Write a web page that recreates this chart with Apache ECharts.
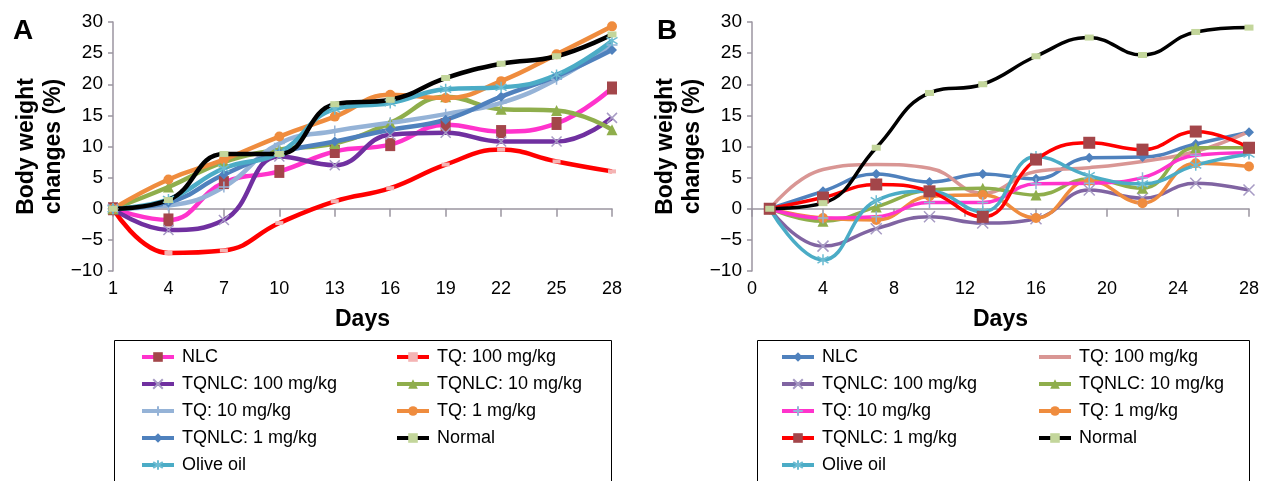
<!DOCTYPE html>
<html><head><meta charset="utf-8">
<script src="https://cdn.jsdelivr.net/npm/echarts@6/dist/echarts.min.js"></script>
<style>html,body{margin:0;padding:0;background:#fff}#c{width:1262px;height:481px}</style>
</head><body><div id="c"></div>
<script>
// ---------- DATA ----------
const daysA = ['1','4','7','10','13','16','19','22','25','28'];
const daysB = [1,4,7,10,13,16,19,22,25,28];
const namesCol1 = ['NLC','TQNLC: 100 mg/kg','TQ: 10 mg/kg','TQNLC: 1 mg/kg','Olive oil'];
const namesCol2 = ['TQ: 100 mg/kg','TQNLC: 10 mg/kg','TQ: 1 mg/kg','Normal'];

// Panel A
const a_nlc      = [0, -1.8, 4.2, 6.0, 9.2, 10.3, 13.5, 12.4, 13.7, 19.4];
const a_tq100    = [0, -7.1, -6.7, -2.3, 1.2, 3.3, 7.1, 9.5, 7.6, 6.0];
const a_tqnlc100 = [0, -3.4, -1.8, 8.4, 7.0, 11.9, 12.2, 10.8, 10.8, 14.6];
const a_tqnlc10  = [0, 3.5, 7.5, 9.5, 10.5, 13.8, 18.0, 16.0, 15.8, 12.7];
const a_tq10     = [0, 0.5, 3.5, 10.5, 12.5, 13.8, 15.2, 17.0, 20.8, 26.3];
const a_tq1      = [0, 4.7, 7.9, 11.6, 14.8, 18.3, 17.8, 20.5, 24.8, 29.3];
const a_tqnlc1   = [0, 1.0, 5.5, 9.0, 10.8, 12.7, 14.3, 18.0, 21.3, 25.5];
const a_normal   = [0, 1.4, 8.8, 8.8, 16.8, 17.5, 21.0, 23.3, 24.5, 28.0];
const a_olive    = [0, 1.5, 6.5, 9.0, 16.0, 17.0, 19.2, 19.5, 21.5, 27.0];

// Panel B
const b_nlc      = [0, 2.8, 5.6, 4.3, 5.6, 4.8, 8.2, 8.3, 10.4, 12.3];
const b_tq100    = [0, 6.3, 7.1, 6.5, 2.5, 6.0, 6.6, 7.6, 9.2, 12.4];
const b_tqnlc100 = [0, -6.0, -3.2, -1.3, -2.3, -1.6, 3.0, 1.7, 4.1, 3.0];
const b_tqnlc10  = [0, -2.0, 0.3, 3.0, 3.3, 2.2, 4.8, 3.3, 9.8, 9.8];
const b_tq10     = [0, -1.5, -1.3, 1.0, 1.0, 4.0, 4.1, 5.0, 8.6, 9.0];
const b_tq1      = [0, -1.5, -1.8, 2.0, 2.2, -1.5, 4.5, 0.9, 7.3, 6.8];
const b_tqnlc1   = [0, 1.8, 3.9, 2.8, -1.3, 7.9, 10.6, 9.5, 12.4, 9.8];
const b_normal   = [0, 0.9, 9.8, 18.6, 20.0, 24.5, 27.5, 24.7, 28.4, 29.1];
const b_olive    = [0, -8.2, 1.3, 2.8, -0.5, 8.4, 5.3, 4.0, 7.0, 8.8];

// ---------- STYLE ----------
const FONT = '"Liberation Sans", Arial, sans-serif';
const AX = '#9b95a0';
const SYM_X = 'path://M0,0L10,10M10,0L0,10';
const SYM_AST = 'path://M5,0L5,10M0,2L10,8M0,8L10,2';
const SYM_PLUS = 'path://M5,0L5,10M0,5L10,5';
const B_PREFIX = 'B\u200b';

function ser(name, data, color, sym, size, symColor, border, gi, w) {
  return {
    name: name, type: 'line', xAxisIndex: gi * 2, yAxisIndex: gi,
    data: data, smooth: 0.45, showAllSymbol: true,
    symbol: sym, symbolSize: size,
    lineStyle: { color: color, width: w },
    itemStyle: { color: symColor, borderColor: border || symColor, borderWidth: border ? 1.5 : 0 },
    emphasis: { disabled: true }, animation: false
  };
}
const pairs = v => daysB.map((d, i) => [d, v[i]]);

const series = [
  ser('NLC', a_nlc, '#ff33cc', 'rect', [10, 13], '#a3464a', null, 0, 4.5),
  ser('TQ: 100 mg/kg', a_tq100, '#ff0000', 'rect', [8, 4], '#f4b4b4', null, 0, 4.5),
  ser('TQNLC: 100 mg/kg', a_tqnlc100, '#7030a0', SYM_X, 10, 'none', '#a79bc4', 0, 4.5),
  ser('TQNLC: 10 mg/kg', a_tqnlc10, '#8fae4c', 'triangle', 11, '#8fae4c', null, 0, 4.5),
  ser('TQ: 10 mg/kg', a_tq10, '#95b3d7', SYM_PLUS, 11, 'none', '#95b3d7', 0, 4.5),
  ser('TQ: 1 mg/kg', a_tq1, '#ef8c3e', 'circle', 10, '#ef8c3e', null, 0, 4.5),
  ser('TQNLC: 1 mg/kg', a_tqnlc1, '#4f81bd', 'diamond', 10, '#4f81bd', null, 0, 4.5),
  ser('Olive oil', a_olive, '#4bacc6', SYM_AST, 11, 'none', '#6cbcd2', 0, 4.5),
  ser('Normal', a_normal, '#000000', 'rect', [9, 6], '#c3d69b', null, 0, 4.5),

  ser(B_PREFIX + 'NLC', pairs(b_nlc), '#4f81bd', 'diamond', 10, '#4f81bd', null, 1, 3.5),
  ser(B_PREFIX + 'TQ: 100 mg/kg', pairs(b_tq100), '#d99694', 'none', 6, '#d99694', null, 1, 3.5),
  ser(B_PREFIX + 'TQNLC: 100 mg/kg', pairs(b_tqnlc100), '#8064a2', SYM_X, 11, 'none', '#a79bc4', 1, 3.5),
  ser(B_PREFIX + 'TQNLC: 10 mg/kg', pairs(b_tqnlc10), '#8fae4c', 'triangle', 11, '#8fae4c', null, 1, 3.5),
  ser(B_PREFIX + 'TQ: 1 mg/kg', pairs(b_tq1), '#ef8c3e', 'circle', 10, '#ef8c3e', null, 1, 3.5),
  ser(B_PREFIX + 'TQ: 10 mg/kg', pairs(b_tq10), '#ff33cc', SYM_PLUS, 11, 'none', '#95b3d7', 1, 3.5),
  ser(B_PREFIX + 'Olive oil', pairs(b_olive), '#4bacc6', SYM_AST, 11, 'none', '#6cbcd2', 1, 3.5),
  ser(B_PREFIX + 'TQNLC: 1 mg/kg', pairs(b_tqnlc1), '#ff0000', 'rect', [12, 12], '#a3464a', null, 1, 3.5),
  ser(B_PREFIX + 'Normal', pairs(b_normal), '#000000', 'rect', [9, 6], '#c3d69b', null, 1, 3.5)
];

const lblX = { show: true, fontFamily: FONT, fontSize: 18, color: '#000', margin: 9 };
const nameStyle = { fontFamily: FONT, fontSize: 23, fontWeight: 'bold', color: '#000' };

function yAx(gi) {
  return {
    type: 'value', gridIndex: gi, min: -10, max: 30, interval: 5,
    splitLine: { show: false },
    axisLine: { show: true, lineStyle: { color: AX, width: 1.5 } },
    axisTick: { show: true, length: 5, lineStyle: { color: AX, width: 1.5 } },
    axisLabel: { fontFamily: FONT, fontSize: 19, color: '#000', margin: 10,
                 formatter: v => String(v).replace('-', '\u2212') },
    name: 'Body weight\nchanges (%)', nameLocation: 'middle', nameRotate: 90, nameGap: 46,
    nameTextStyle: Object.assign({ lineHeight: 27 }, nameStyle)
  };
}

const legendBase = {
  orient: 'vertical', itemWidth: 32, itemHeight: 12, itemGap: 9, padding: 0, height: 160,
  lineStyle: { width: 4 },
  textStyle: { fontFamily: FONT, fontSize: 18, color: '#000', padding: [0, 0, 0, 3] },
  formatter: n => n.replace(B_PREFIX, ''), selectedMode: false
};
function leg(left, names) { return Object.assign({ left: left, top: 348, data: names }, legendBase); }
// Legend entry of panel B's "TQ: 100 mg/kg" shows the line only (the series has no markers)
const noMarker = { color: 'rgba(0,0,0,0)', borderColor: 'rgba(0,0,0,0)', borderWidth: 0 };
const legBCol2 = namesCol2.map(n => n === 'TQ: 100 mg/kg'
  ? { name: B_PREFIX + n, itemStyle: noMarker } : B_PREFIX + n);

const option = {
  backgroundColor: '#fff',
  title: [
    { text: 'A', left: 8, top: 12, textStyle: { fontFamily: FONT, fontSize: 28, fontWeight: 'bold', color: '#000' } },
    { text: 'B', left: 652, top: 12, textStyle: { fontFamily: FONT, fontSize: 28, fontWeight: 'bold', color: '#000' } }
  ],
  grid: [
    { left: 113, right: 650, top: 22, bottom: 210 },
    { left: 752, right: 13, top: 22, bottom: 210 }
  ],
  xAxis: [
    { type: 'category', gridIndex: 0, data: daysA, boundaryGap: false, position: 'bottom',
      axisLine: { show: false, onZero: false }, axisTick: { show: false }, axisLabel: lblX,
      name: 'Days', nameLocation: 'middle', nameGap: 37, nameTextStyle: nameStyle },
    { type: 'category', gridIndex: 0, data: daysA, boundaryGap: false, position: 'bottom',
      axisLine: { show: true, onZero: true, lineStyle: { color: AX, width: 1.5 } },
      axisTick: { show: true, length: 8, lineStyle: { color: AX, width: 1.5 } },
      axisLabel: { show: false } },
    { type: 'value', gridIndex: 1, min: 0, max: 28, interval: 4, position: 'bottom',
      splitLine: { show: false },
      axisLine: { show: false, onZero: false }, axisTick: { show: false }, axisLabel: lblX,
      name: 'Days', nameLocation: 'middle', nameGap: 37, nameTextStyle: nameStyle },
    { type: 'value', gridIndex: 1, min: 0, max: 28, interval: 4, position: 'bottom',
      splitLine: { show: false },
      axisLine: { show: true, onZero: true, lineStyle: { color: AX, width: 1.5 } },
      axisTick: { show: true, length: 8, lineStyle: { color: AX, width: 1.5 } },
      axisLabel: { show: false } }
  ],
  yAxis: [yAx(0), yAx(1)],
  legend: [
    leg(140, namesCol1), leg(395, namesCol2),
    leg(780, namesCol1.map(n => B_PREFIX + n)), leg(1037, legBCol2)
  ],
  graphic: [
    { type: 'rect', shape: { x: 114.5, y: 340.5, width: 497, height: 170 },
      style: { fill: 'none', stroke: '#000', lineWidth: 1 }, z: -1 },
    { type: 'rect', shape: { x: 757.5, y: 340.5, width: 492, height: 170 },
      style: { fill: 'none', stroke: '#000', lineWidth: 1 }, z: -1 }
  ],
  series: series
};
echarts.init(document.getElementById('c'), null, { renderer: 'canvas' }).setOption(option);
</script></body></html>
